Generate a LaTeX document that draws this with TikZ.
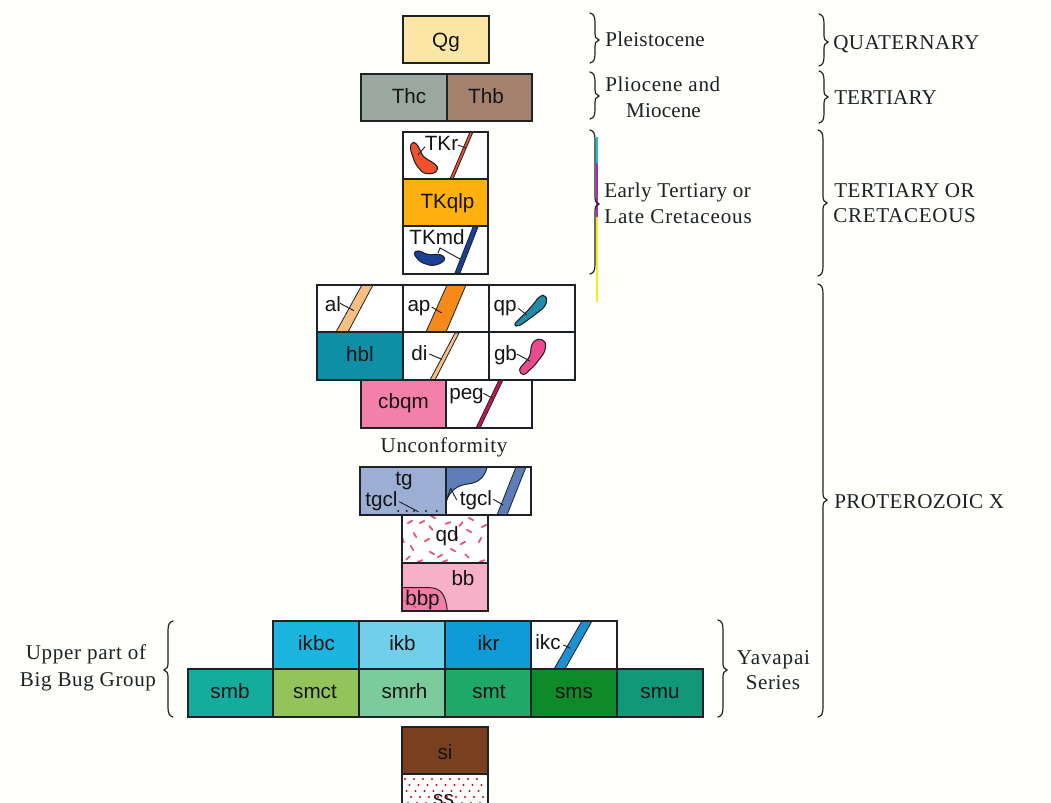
\documentclass[tikz,border=0pt]{standalone}
\usepackage{fontspec}
\setmainfont{Liberation Serif}
\newfontfamily\boxfont{Liberation Sans}
\usetikzlibrary{fit}
\definecolor{paper}{HTML}{FEFEFA}
\definecolor{ink}{HTML}{1C2226}
\definecolor{pk}{HTML}{EE4A70}
\definecolor{regc}{HTML}{18C0C8}
\definecolor{regm}{HTML}{B828A8}
\definecolor{regy}{HTML}{FFE818}
\definecolor{cqg}{HTML}{FBE6A6}
\definecolor{cthc}{HTML}{9AA8A0}
\definecolor{cthb}{HTML}{A4806E}
\definecolor{ctkq}{HTML}{FDB00E}
\definecolor{cred}{HTML}{F0502A}
\definecolor{cnavy}{HTML}{1B3F94}
\definecolor{cal}{HTML}{F9BE82}
\definecolor{capl}{HTML}{F58A1A}
\definecolor{cqp}{HTML}{1F8CA8}
\definecolor{chbl}{HTML}{0E8FA5}
\definecolor{cgb}{HTML}{EC4A8C}
\definecolor{ccbq}{HTML}{F47FA8}
\definecolor{cpeg}{HTML}{C4184C}
\definecolor{ctg}{HTML}{9DAED4}
\definecolor{ctgd}{HTML}{5F7DB8}
\definecolor{cbb}{HTML}{F8B0C8}
\definecolor{cbbp}{HTML}{EE80A8}
\definecolor{cikbc}{HTML}{1CB5E0}
\definecolor{cikb}{HTML}{72CFEA}
\definecolor{cikr}{HTML}{0F9AD8}
\definecolor{cikc}{HTML}{1E8FD0}
\definecolor{csmb}{HTML}{14AC9C}
\definecolor{csmct}{HTML}{93C45C}
\definecolor{csmrh}{HTML}{7CCB9C}
\definecolor{csmt}{HTML}{20A868}
\definecolor{csms}{HTML}{0E8A28}
\definecolor{csmu}{HTML}{109878}
\definecolor{csi}{HTML}{7A3F1F}
\tikzset{
  cellbox/.style={draw=ink,line width=0.85pt,inner sep=0pt,outer sep=0pt},
  lab/.style={font=\boxfont\fontsize{15.5pt}{18pt}\selectfont,text=black!92,inner sep=0pt,anchor=base},
  txt/.style={font=\fontsize{15.8pt}{19pt}\selectfont,text=ink,inner sep=0pt,anchor=base},
  txtl/.style={txt,anchor=base west},
  lead/.style={draw=ink,line width=0.7pt},
  brace/.style={draw=ink,line width=0.9pt,line cap=round},
  regline/.style={line width=1.3pt},
  dikeedge/.style={draw=ink,line width=0.6pt,line join=round},
  blob/.style={draw=ink,line width=0.8pt,line join=round,rounded corners=2.5pt},
  speck/.style={line width=1.3pt,color=pk,line cap=round}
}
\newcommand\ls[2]{{\addfontfeature{LetterSpace=#1}#2}}
\newcommand\cell[6]{%
  \coordinate (a#1) at (#2,#3);\coordinate (b#1) at (#4,#5);
  \node[cellbox,fill=#6,fit=(a#1)(b#1)] (#1) {};}
\newcommand\edge[1]{\draw[cellbox] (a#1) rectangle (b#1);}
\newcommand\dike[7]{\path[fill=#7,dikeedge] (#1,#3) -- (#2,#3) -- (#5,#6) -- (#4,#6) -- cycle;}
\newcommand\bracer[4]{\draw[brace] (#1-5,#2) .. controls (#1-1,#2+1) and (#1,#2+4) .. (#1,#2+10) -- (#1,#3-7) .. controls (#1,#3-3) and (#1+1,#3-1) .. (#1+4,#3) .. controls (#1+1,#3+1) and (#1,#3+3) .. (#1,#3+7) -- (#1,#4-10) .. controls (#1,#4-4) and (#1-1,#4-1) .. (#1-5,#4);}
\newcommand\bracel[4]{\draw[brace] (#1+5,#2) .. controls (#1+1,#2+1) and (#1,#2+4) .. (#1,#2+10) -- (#1,#3-7) .. controls (#1,#3-3) and (#1-1,#3-1) .. (#1-4,#3) .. controls (#1-1,#3+1) and (#1,#3+3) .. (#1,#3+7) -- (#1,#4-10) .. controls (#1,#4-4) and (#1+1,#4-1) .. (#1+5,#4);}
\begin{document}
\begin{tikzpicture}[x=0.75pt,y=-0.75pt]
\useasboundingbox (0,0) rectangle (1051,803);
\fill[paper] (0,0) rectangle (1051,803);
\clip (0,0) rectangle (1051,803);

% --- boxes
\cell{qg}{403}{16}{489}{63}{cqg}
\cell{thc}{361}{74}{447}{121}{cthc}
\cell{thb}{447}{74}{532}{121}{cthb}
\cell{tkr}{403}{132}{488}{179}{white}
\cell{tkq}{403}{179}{488}{226}{ctkq}
\cell{tkm}{403}{226}{488}{274}{white}
\cell{al}{317}{285}{403}{332}{white}
\cell{ap}{403}{285}{489}{332}{white}
\cell{qp}{489}{285}{575}{332}{white}
\cell{hbl}{317}{332}{403}{380}{chbl}
\cell{di}{403}{332}{489}{380}{white}
\cell{gb}{489}{332}{575}{380}{white}
\cell{cbq}{361}{380}{446}{428}{ccbq}
\cell{peg}{446}{380}{532}{428}{white}
\cell{tg}{360}{467}{446}{515}{ctg}
\cell{tgr}{446}{467}{531}{515}{white}
\cell{qd}{402}{515}{488}{563}{white}
\cell{bb}{402}{563}{488}{611}{cbb}
\cell{ikbc}{273}{621}{359}{669}{cikbc}
\cell{ikb}{359}{621}{445}{669}{cikb}
\cell{ikr}{445}{621}{531}{669}{cikr}
\cell{ikc}{531}{621}{617}{669}{white}
\cell{smb}{188}{669}{273}{717}{csmb}
\cell{smct}{273}{669}{359}{717}{csmct}
\cell{smrh}{359}{669}{445}{717}{csmrh}
\cell{smt}{445}{669}{531}{717}{csmt}
\cell{sms}{531}{669}{617}{717}{csms}
\cell{smu}{617}{669}{703}{717}{csmu}
\cell{si}{402}{727}{488}{774}{csi}
\cell{ss}{402}{774}{488}{830}{white}

% --- dikes
\dike{470}{473}{132}{450}{453}{179}{cred}
\dike{473}{478}{227}{455}{460}{273}{cnavy}
\dike{362}{373}{285}{336}{348}{332}{cal}
\dike{447}{466}{285}{426}{446}{332}{capl}
\dike{455}{459}{333}{430}{435}{380}{cal}
\dike{499}{503}{380}{476}{480}{428}{cpeg}
\dike{516}{526}{467}{497}{507}{515}{ctgd}
\dike{582}{592}{621}{554}{565}{669}{cikc}

% --- blobs
\path[fill=cred,blob] (411.7,141.7) -- (416.7,143.3) -- (423,156.7) -- (436.7,165) -- (438.3,170) -- (433,174) -- (423,173.3) -- (415,163.3) -- (410,148.3) -- cycle;
\path[fill=cnavy,blob] (413,253) -- (418,250) -- (428,255) -- (440,254) -- (446,258) -- (442,263) -- (432,266) -- (420,262) -- cycle;
\path[fill=cqp,blob] (513.3,325) -- (530,308.3) -- (540,295.7) -- (545,295) -- (547.3,300) -- (545,306.7) -- (533.3,316) -- (518.3,326.7) -- cycle;
\path[fill=cgb,blob] (518.3,370) -- (530,356.7) -- (531.7,343.3) -- (538.3,338.3) -- (546,341.7) -- (545,351.7) -- (535,365) -- (523.3,376) -- cycle;
\path[fill=ctgd,draw=ink,line width=0.7pt] (446,467.3) -- (487,467.3) .. controls (485,477) and (478,483) .. (468,484) .. controls (458,485) and (450,490) .. (446,502) -- cycle;
\path[fill=cbbp,draw=ink,line width=0.7pt] (402.3,587.7) -- (430,587.7) .. controls (441,588) and (446,595) .. (447.3,611) -- (402.3,611) -- cycle;

% --- specks: qd, bbp, ss
\foreach \px/\py/\ang in {410/522/-30,422/522/-25,433/517/30,448/523/-20,461/524/-50,471/519/30,484/526/-25,431/528/50,415/535/60,427/540/-30,469/531/30,403/540/70,412/548/60,453/550/30,463/543/-30,480/540/-60,432/553/30,408/558/-45,420/561/-20,445/561/-20,467/556/45,482/561/-20,456/536/60,440/556/-30}
  \draw[speck] (\px,\py) ++(\ang:2.5) -- ++(\ang+180:5);
\foreach \px/\py/\ang in {408/590/30,420/595/-30,432/596/50,414/606/40,430/607/-30,406/602/60}
  \draw[speck,line width=1pt] (\px,\py) ++(\ang:2) -- ++(\ang+180:4);
\foreach \py/\off in {779/0,785/4.5,791/1.5,797/6,803/3}
  \foreach \px in {405,414,...,477}
    \fill[red!88!black] (\px+\off,\py) circle (1.15);

\foreach \n in {tkr,tkm,al,ap,di,peg,tgr,qd,bb,ikc} {\edge{\n}}

% --- dots in tg
\foreach \px in {398.3,406.7,414,426,436.7} \fill[ink] (\px,511) circle (1.1);

% --- leaders
\draw[lead] (425,146.7) -- (418,155);
\draw[lead] (458,145) -- (466,148);
\draw[lead] (438,253) -- (440,248) -- (460,259);
\draw[lead] (340,303.3) -- (354,310.7);
\draw[lead] (431.7,307) -- (441.7,313);
\draw[lead] (518.3,308.3) -- (526.7,315);
\draw[lead] (429.3,354) -- (441.7,359.3);
\draw[lead] (516.7,354) -- (530,361);
\draw[lead] (483.3,393.3) -- (492.7,398.3);
\draw[lead] (399.3,501.7) -- (418.3,511.7);
\draw[lead] (450.7,488.3) -- (456.7,500);
\draw[lead] (450.7,488.3) -- (446.5,500);
\draw[lead] (493.3,499.3) -- (503.3,505);
\draw[lead] (563.3,645) -- (570.7,648.3);

% --- box labels (at baselines)
\node[lab] (lqg) at (446,47) {Qg};
\node[lab] (lthc) at (409,103.5) {Thc};
\node[lab] (lthb) at (486,103.5) {Thb};
\node[lab] (ltkr) at (441.5,150) {TKr};
\node[lab] (ltkq) at (447.5,208) {TKqlp};
\node[lab] (ltkm) at (437,244.3) {TKmd};
\node[lab] (lal) at (333,311.7) {al};
\node[lab] (lap) at (419,311.7) {ap};
\node[lab] (lqp) at (505,311.7) {qp};
\node[lab] (lhbl) at (360,361) {hbl};
\node[lab] (ldi) at (419.5,360) {di};
\node[lab] (lgb) at (505.5,360) {gb};
\node[lab] (lcbq) at (403.5,408.3) {cbqm};
\node[lab] (lpeg) at (466.5,399) {peg};
\node[lab] (ltg) at (404,485) {tg};
\node[lab] (ltgcl) at (381.5,506.7) {tgcl};
\node[lab] (ltgcr) at (476,505) {tgcl};
\node[lab] (lqd) at (447,541.7) {qd};
\node[lab] (lbb) at (463,585.7) {bb};
\node[lab] (lbbp) at (422.5,605.7) {bbp};
\node[lab] (likbc) at (316.5,650.7) {ikbc};
\node[lab] (likb) at (402.5,650.7) {ikb};
\node[lab] (likr) at (488.5,650.7) {ikr};
\node[lab] (likc) at (548,649) {ikc};
\node[lab] (lsmb) at (230,698.3) {smb};
\node[lab] (lsmct) at (315,698.3) {smct};
\node[lab] (lsmrh) at (404.5,698.3) {smrh};
\node[lab] (lsmt) at (489,698.3) {smt};
\node[lab] (lsms) at (574,698.3) {sms};
\node[lab] (lsmu) at (660,698.3) {smu};
\node[lab] (lsi) at (445,759.3) {si};
\node[lab] (lss) at (443.5,805) {ss};

% --- braces
\path[draw=regc,regline] (597,137) -- (597,163);
\path[draw=regm,regline] (597,163) -- (597,217);
\path[draw=regy,regline] (597,217) -- (597,302);
\bracer{595}{13}{40}{63}
\bracer{595}{72}{96}{119}
\bracer{595}{130}{204}{274}
\bracer{824}{14}{42}{66}
\bracer{824}{71}{97}{123}
\bracer{823}{130}{203}{276}
\bracer{823}{284}{500}{717}
\bracer{723}{620}{670}{717}
\bracel{168}{621}{670}{717}

% --- text
\node[txtl] (tpl) at (605,46) {\ls{1.7}{Pleistocene}};
\node[txtl] (tpm) at (605,91.2) {\ls{3.2}{Pliocene and}};
\node[txt] (tmi) at (663.5,117.3) {\ls{0.7}{Miocene}};
\node[txtl] (tet) at (604,197.3) {\ls{2.2}{Early Tertiary or}};
\node[txtl] (tlc) at (604,223.3) {\ls{4.1}{Late Cretaceous}};
\node[txtl] (tqu) at (833,49.3) {\ls{2.4}{QUATERNARY}};
\node[txtl] (tte) at (834,104) {\ls{0.5}{TERTIARY}};
\node[txtl] (tto) at (834,197.3) {\ls{2.2}{TERTIARY OR}};
\node[txtl] (tcr) at (833,222.7) {\ls{3.3}{CRETACEOUS}};
\node[txtl] (tpr) at (834,508) {\ls{1.8}{PROTEROZOIC X}};
\node[txt] (tun) at (444,452.7) {\ls{3.2}{Unconformity}};
\node[txt] (tya) at (773.5,664) {\ls{4}{Yavapai}};
\node[txt] (tse) at (773,689.3) {\ls{2.4}{Series}};
\node[txt] (tup) at (86,659.3) {\ls{3.3}{Upper part of}};
\node[txt] (tbb) at (88,686.7) {\ls{2.9}{Big Bug Group}};
\end{tikzpicture}
\end{document}
